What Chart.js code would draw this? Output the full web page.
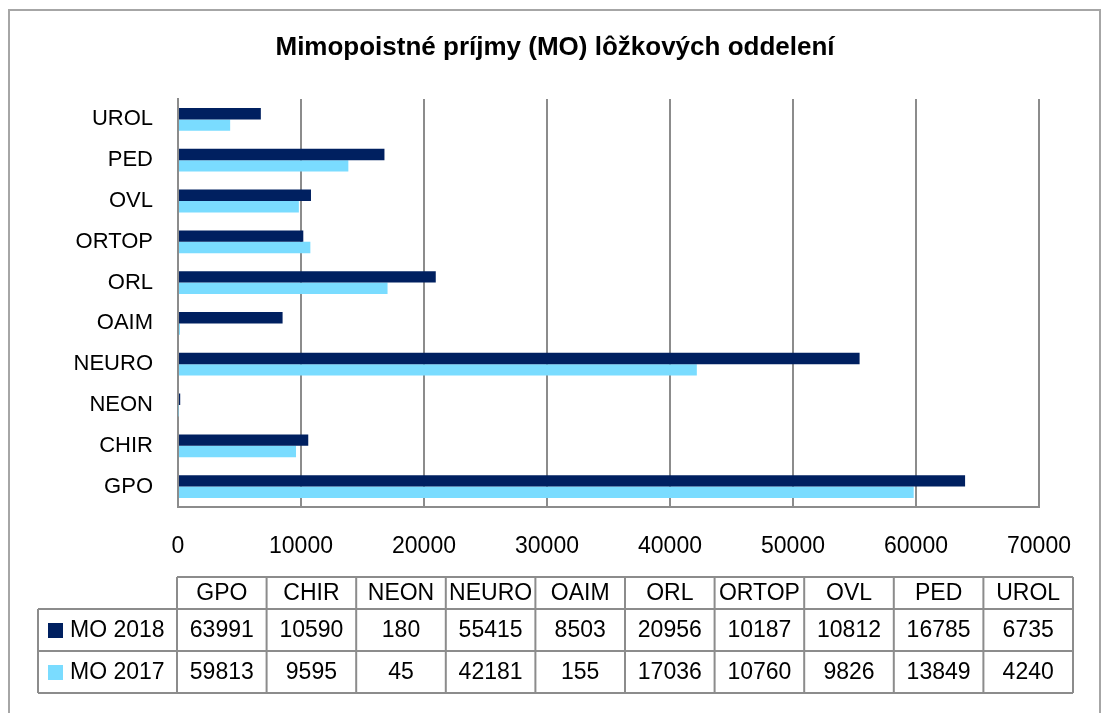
<!DOCTYPE html>
<html lang="sk">
<head>
<meta charset="UTF-8">
<title>Mimopoistné príjmy (MO) lôžkových oddelení</title>
<script src="https://cdn.jsdelivr.net/npm/chart.js"></script>
<style>
    body { margin: 0; background: #fff; }
    #wrap { width: 1104px; height: 713px; position: relative; }
</style>
</head>
<body>
<div id="wrap"><canvas id="moChart"></canvas></div>
<script>
    // data
    const categories = ['GPO', 'CHIR', 'NEON', 'NEURO', 'OAIM', 'ORL', 'ORTOP', 'OVL', 'PED', 'UROL'];
    const seriesNames = ['MO 2018', 'MO 2017'];
    const mo2018 = [63991, 10590, 180, 55415, 8503, 20956, 10187, 10812, 16785, 6735];
    const mo2017 = [59813, 9595, 45, 42181, 155, 17036, 10760, 9826, 13849, 4240];
    const xTicks = [0, 10000, 20000, 30000, 40000, 50000, 60000, 70000];
    const titleText = 'Mimopoistné príjmy (MO) lôžkových oddelení';
    const colors = ['#002060', '#7adcff'];

    const FONT = '"Liberation Sans", Arial, sans-serif';
    const gridGray = '#8c8c8c';

    // frame, title and the data table below the axis
    const framePlugin = {
        id: 'frame',
        beforeDraw(chart) {
            const c = chart.ctx;
            c.save();
            c.fillStyle = '#fff';
            c.fillRect(0, 0, chart.width, chart.height);
            c.strokeStyle = '#a6a6a6';
            c.lineWidth = 2;
            c.strokeRect(9, 10, 1091, 720);
            c.fillStyle = '#000';
            c.font = 'bold 26px ' + FONT;
            c.textAlign = 'center';
            c.textBaseline = 'middle';
            c.fillText(titleText, 555, 48);
            c.restore();
        },
        afterDraw(chart) {
            const c = chart.ctx;
            const left = 38, colStart = 177, right = 1073;
            const rows = [577, 609, 651, 693];
            const colW = (right - colStart) / categories.length;
            c.save();
            c.strokeStyle = gridGray;
            c.lineWidth = 2;
            c.beginPath();
            c.moveTo(colStart, rows[0]); c.lineTo(right, rows[0]);
            for (let r = 1; r < rows.length; r++) {
                c.moveTo(left, rows[r]); c.lineTo(right, rows[r]);
            }
            c.moveTo(left, rows[1]); c.lineTo(left, rows[3]);
            for (let i = 0; i <= categories.length; i++) {
                const x = colStart + i * colW;
                c.moveTo(x, rows[0]); c.lineTo(x, rows[3]);
            }
            c.stroke();

            c.fillStyle = '#000';
            c.font = '23px ' + FONT;
            c.textAlign = 'center';
            c.textBaseline = 'middle';
            const series = [mo2018, mo2017];
            categories.forEach((cat, i) => {
                const cx = colStart + (i + 0.5) * colW;
                c.fillText(cat, cx, (rows[0] + rows[1]) / 2 + 1);
                series.forEach((s, k) => {
                    c.fillText(String(s[i]), cx, (rows[k + 1] + rows[k + 2]) / 2 + 1);
                });
            });
            // legend keys
            c.textAlign = 'left';
            seriesNames.forEach((name, k) => {
                const cy = (rows[k + 1] + rows[k + 2]) / 2;
                c.fillStyle = colors[k];
                c.fillRect(48, cy - 7, 15, 15);
                c.fillStyle = '#000';
                c.fillText(name, 70, cy + 1);
            });
            c.restore();
        }
    };

    new Chart(document.getElementById('moChart'), {
        type: 'bar',
        data: {
            labels: categories,
            datasets: [
                { label: seriesNames[0], data: mo2018, backgroundColor: colors[0] },
                { label: seriesNames[1], data: mo2017, backgroundColor: colors[1] }
            ]
        },
        options: {
            indexAxis: 'y',
            responsive: true,
            maintainAspectRatio: false,
            animation: false,
            datasets: { bar: { categoryPercentage: 0.56, barPercentage: 1.0 } },
            layout: { padding: { left: 0, right: 65, top: 99, bottom: 0 } },
            plugins: {
                legend: { display: false },
                tooltip: { enabled: false },
                title: { display: false }
            },
            scales: {
                x: {
                    min: 0,
                    max: 70000,
                    afterBuildTicks(scale) {
                        scale.ticks = xTicks.map(v => ({ value: v }));
                    },
                    afterFit(scale) { scale.height = 206; },
                    grid: { color: gridGray, lineWidth: 2, drawTicks: false },
                    border: { color: gridGray, width: 2 },
                    ticks: {
                        color: '#000',
                        padding: 26,
                        maxRotation: 0,
                        font: { family: FONT, size: 23 },
                        callback: v => String(v)
                    }
                },
                y: {
                    reverse: true,
                    afterFit(scale) { scale.width = 178; },
                    grid: { display: false, drawTicks: false },
                    border: { color: gridGray, width: 2 },
                    ticks: {
                        color: '#000',
                        padding: 25,
                        font: { family: FONT, size: 22 }
                    }
                }
            }
        },
        plugins: [framePlugin]
    });
</script>
</body>
</html>
